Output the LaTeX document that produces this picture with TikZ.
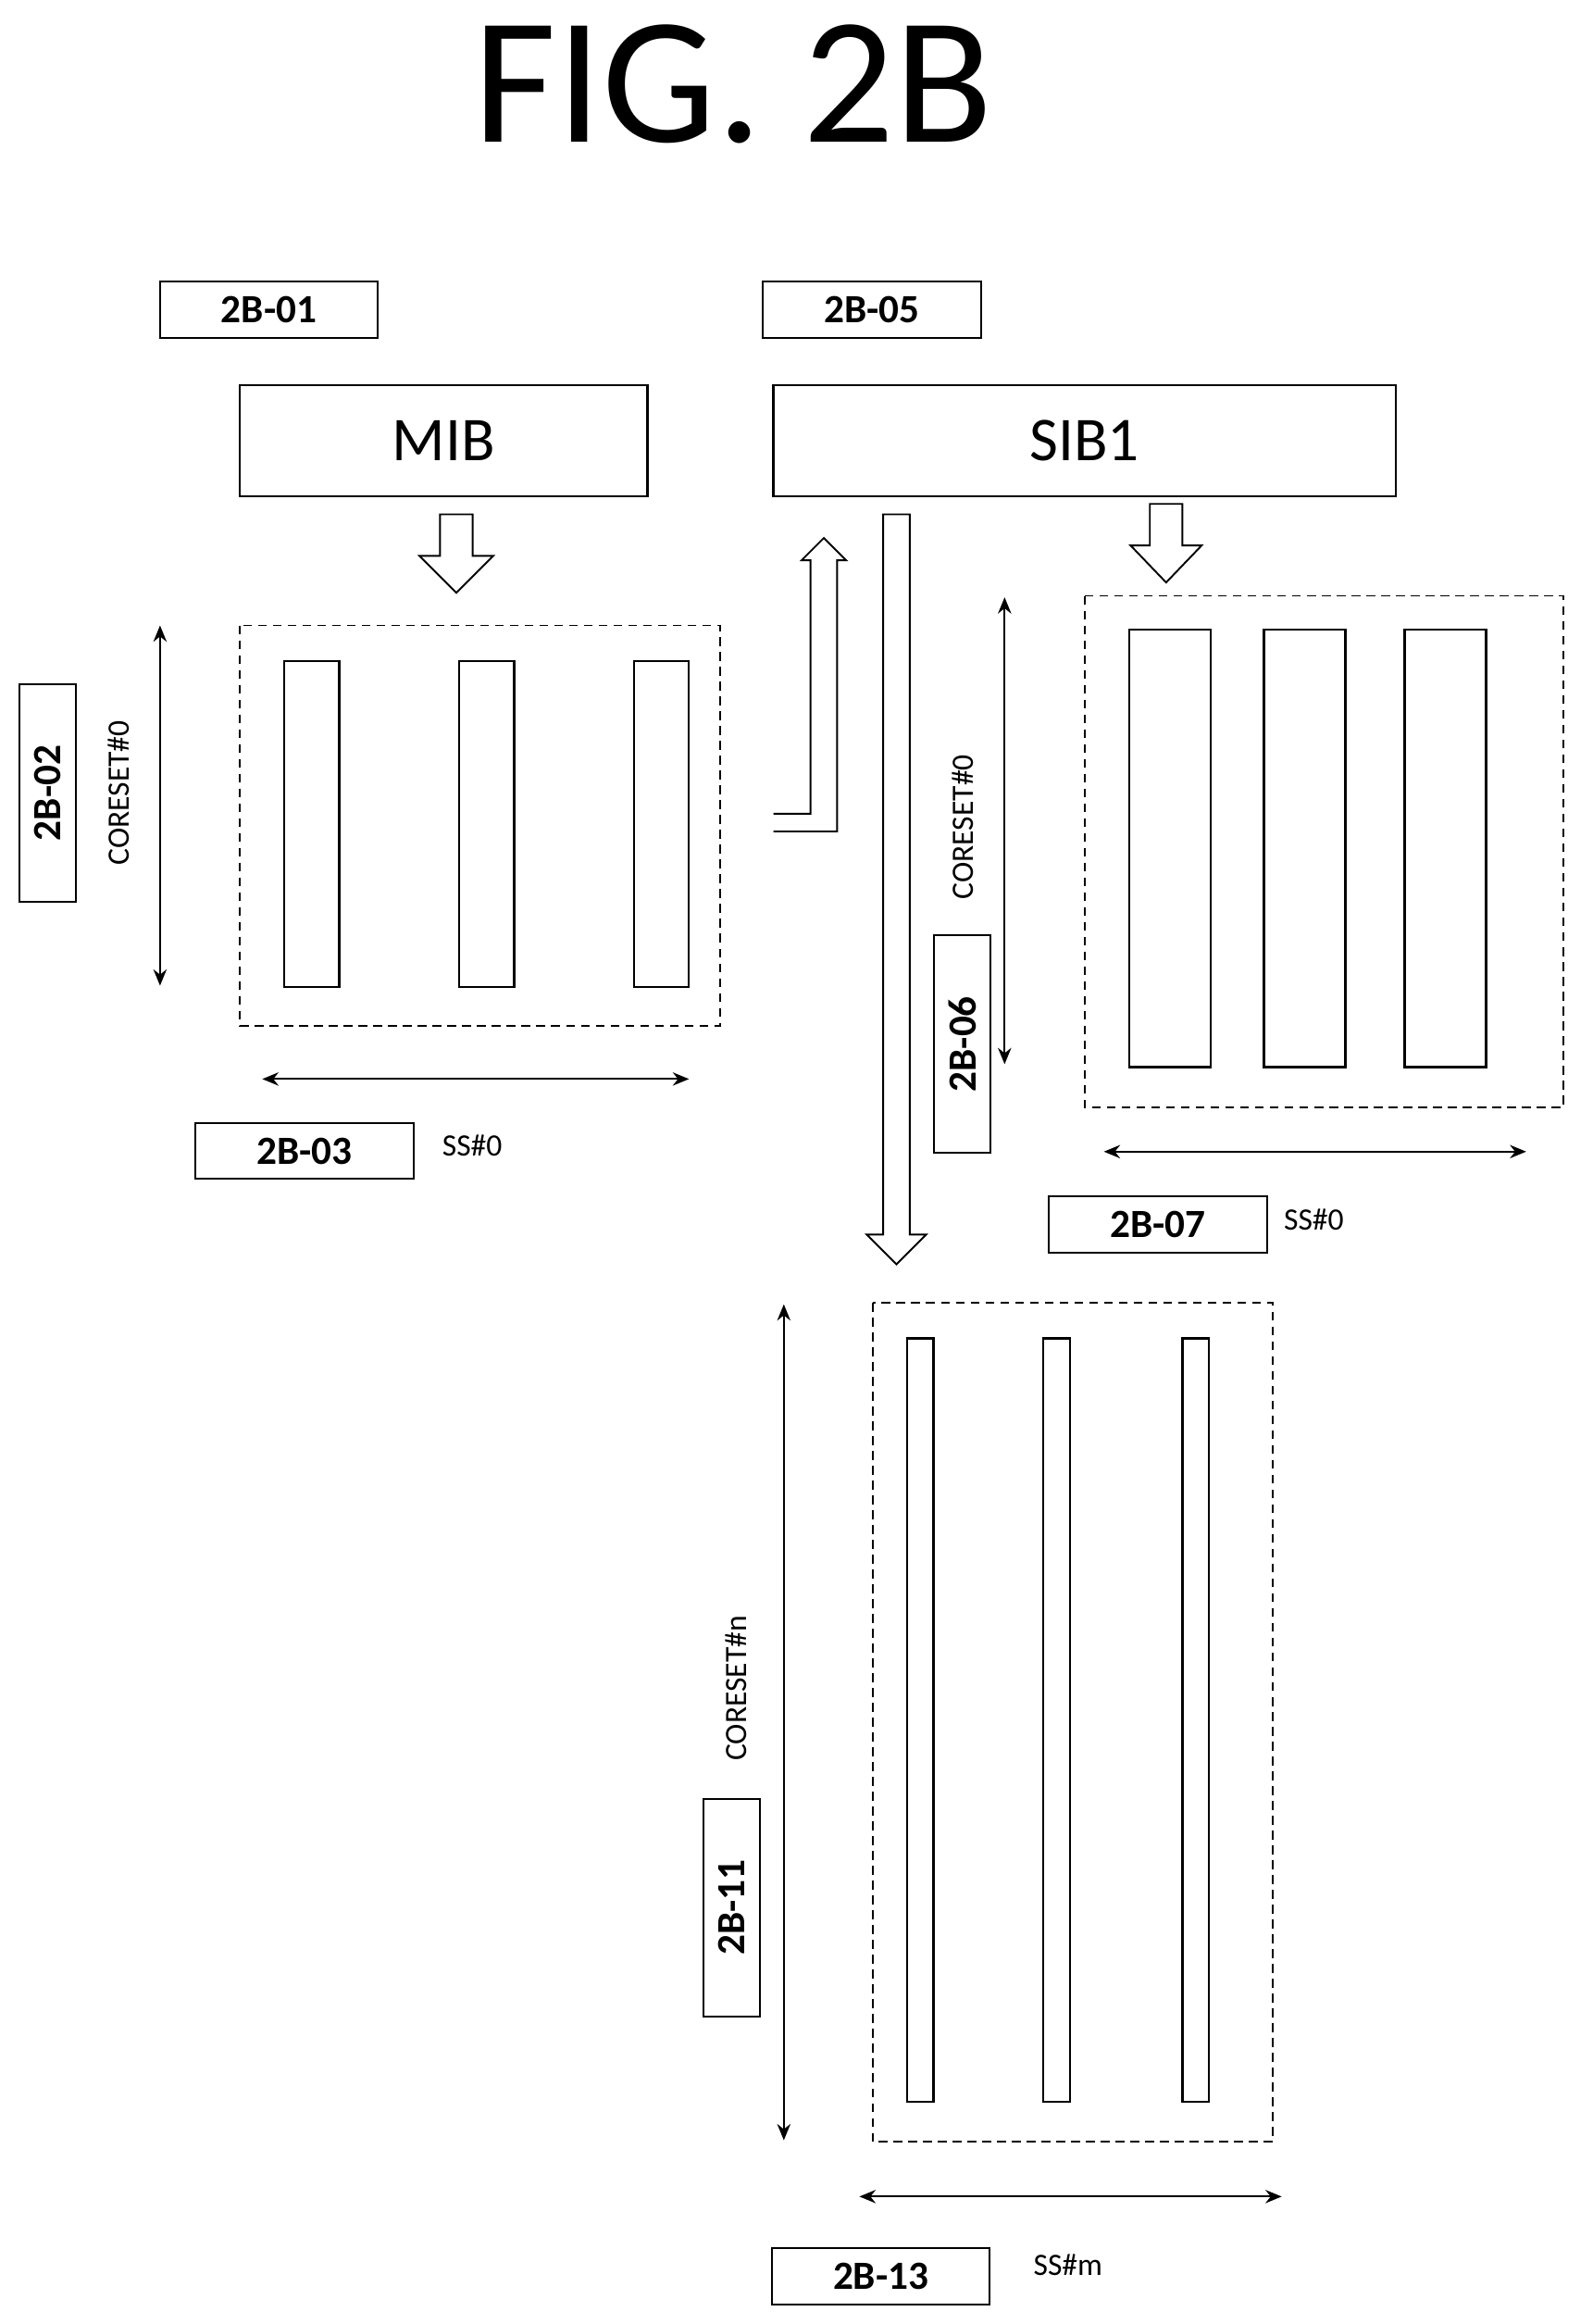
\documentclass[tikz,border=0pt]{standalone}
\usepackage{fontspec}
\setmainfont{Carlito}
\usetikzlibrary{arrows.meta}
\begin{document}
\begin{tikzpicture}[x=1pt,y=-1pt,
 lbl/.style={draw,line width=1.2pt,minimum width=147pt,minimum height=38pt,inner sep=0pt,font=\fontsize{27}{30}\selectfont\bfseries},
 rlbl/.style={lbl,rotate=90},
 big/.style={draw,line width=1.4pt,inner sep=0pt,font=\fontsize{42}{46}\selectfont},
 dbox/.style={draw,dash pattern=on 6pt off 4pt,line width=1.2pt},
 bar/.style={draw,line width=1.4pt},
 dim/.style={{Stealth[length=11pt,width=9pt]}-{Stealth[length=11pt,width=9pt]},line width=1.2pt},
 hol/.style={draw,line width=1.2pt,fill=white},
 small/.style={font=\fontsize{21}{23}\selectfont}]
\useasboundingbox (0,0) rectangle (1075,1568);
\node[font=\fontsize{122}{126}\selectfont] (title) at (495,57) {FIG. 2B};
% labels
\node[lbl] (l01) at (181.5,209) {2B-01};
\node[lbl] (l05) at (588.5,209) {2B-05};
\node[big,minimum width=275pt,minimum height=75pt] (mib) at (299.5,297.5) {MIB};
\node[big,minimum width=420pt,minimum height=75pt] (sib) at (732,297.5) {SIB1};
% hollow arrows
\draw[hol] (297,347) -- (319,347) -- (319,375) -- (333,375) -- (308,400) -- (283,375) -- (297,375) -- cycle;
\draw[hol] (776,340) -- (798,340) -- (798,368) -- (811,368) -- (787,393) -- (763,368) -- (776,368) -- cycle;
\draw[hol] (596,347) -- (614,347) -- (614,833) -- (625,833) -- (605,853) -- (585,833) -- (596,833) -- cycle;
\draw[hol] (522,549) -- (547,549) -- (547,378) -- (541,378) -- (556,363) -- (571,378) -- (565,378) -- (565,561) -- (522,561);
% left block
\draw[dbox] (162,422) rectangle (486,692);
\foreach \x in {192,310,428} \draw[bar] (\x,446) rectangle (\x+37,666);
\coordinate (a1) at (108,422); \coordinate (a2) at (108,665);
\draw[dim] (a1) -- (a2);
\node[small,rotate=90] (c1) at (80,535) {CORESET\#0};
\node[rlbl] (l02) at (32,535) {2B-02};
\coordinate (b1) at (177,728); \coordinate (b2) at (465,728);
\draw[dim] (b1) -- (b2);
\node[lbl] (l03) at (205.5,776.5) {2B-03};
\node[small,anchor=west] (s1) at (295,773) {SS\#0};
% right block
\draw[dbox] (732,402) rectangle (1055,747);
\foreach \x in {762,853,948} \draw[bar] (\x,425) rectangle (\x+55,720);
\coordinate (a3) at (678,403); \coordinate (a4) at (678,718);
\draw[dim] (a3) -- (a4);
\node[small,rotate=90] (c2) at (650,558) {CORESET\#0};
\node[rlbl] (l06) at (649.5,704.5) {2B-06};
\coordinate (b3) at (745,777); \coordinate (b4) at (1030,777);
\draw[dim] (b3) -- (b4);
\node[lbl] (l07) at (781.5,826) {2B-07};
\node[small,anchor=west] (s2) at (863,823) {SS\#0};
% bottom block
\draw[dbox] (589,879) rectangle (859,1445);
\foreach \x in {612,704,798} \draw[bar] (\x,903) rectangle (\x+18,1418);
\coordinate (a5) at (529,880); \coordinate (a6) at (529,1444);
\draw[dim] (a5) -- (a6);
\node[small,rotate=90] (c3) at (497,1139) {CORESET\#n};
\node[rlbl] (l11) at (494,1287) {2B-11};
\coordinate (b5) at (580,1482); \coordinate (b6) at (865,1482);
\draw[dim] (b5) -- (b6);
\node[lbl] (l13) at (594.5,1536) {2B-13};
\node[small,anchor=west] (s3) at (694,1528) {SS\#m};
\end{tikzpicture}
\end{document}
